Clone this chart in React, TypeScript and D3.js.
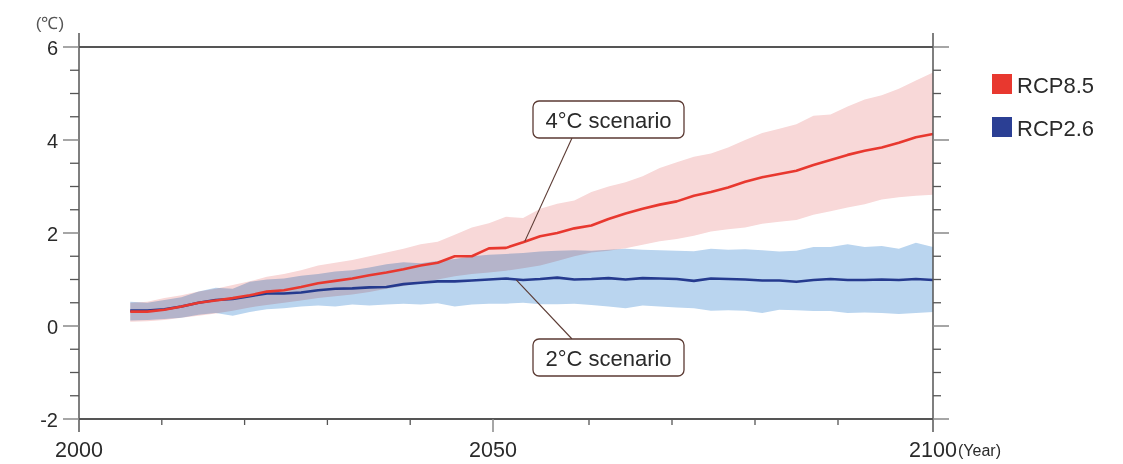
import React from "react";
import * as d3 from "d3";

// ---------- data ----------
const years: number[] = d3.range(2006, 2101, 2);

const rcp85Mean = [0.31, 0.31, 0.35, 0.42, 0.5, 0.55, 0.6, 0.66, 0.74, 0.77, 0.84, 0.92, 0.97, 1.02, 1.09, 1.15, 1.22, 1.3, 1.36, 1.5, 1.5, 1.67, 1.68, 1.8, 1.93, 2.0, 2.1, 2.16, 2.3, 2.42, 2.52, 2.61, 2.68, 2.8, 2.88, 2.98, 3.1, 3.2, 3.27, 3.34, 3.46, 3.57, 3.68, 3.77, 3.84, 3.94, 4.06, 4.13];
const rcp85Upper = [0.5, 0.52, 0.6, 0.66, 0.74, 0.8, 0.88, 0.96, 1.06, 1.12, 1.2, 1.3, 1.36, 1.42, 1.5, 1.58, 1.66, 1.76, 1.81, 1.96, 2.12, 2.21, 2.35, 2.32, 2.52, 2.63, 2.7, 2.88, 3.0, 3.09, 3.22, 3.4, 3.52, 3.64, 3.71, 3.84, 4.0, 4.15, 4.24, 4.34, 4.52, 4.55, 4.72, 4.87, 4.96, 5.1, 5.28, 5.45];
const rcp85Lower = [0.09, 0.1, 0.13, 0.18, 0.22, 0.27, 0.33, 0.4, 0.45, 0.5, 0.55, 0.6, 0.64, 0.68, 0.73, 0.8, 0.86, 0.93, 1.0, 1.07, 1.12, 1.15, 1.19, 1.24, 1.3, 1.4, 1.5, 1.58, 1.62, 1.67, 1.75, 1.82, 1.87, 1.94, 2.03, 2.08, 2.12, 2.2, 2.24, 2.28, 2.39, 2.47, 2.55, 2.62, 2.72, 2.77, 2.8, 2.82];

const rcp26Mean = [0.33, 0.33, 0.36, 0.42, 0.5, 0.56, 0.58, 0.64, 0.7, 0.7, 0.72, 0.77, 0.8, 0.81, 0.83, 0.84, 0.9, 0.93, 0.96, 0.96, 0.98, 1.0, 1.02, 0.99, 1.01, 1.04, 1.0, 1.01, 1.03, 1.0, 1.03, 1.02, 1.01, 0.97, 1.02, 1.01, 1.0, 0.98, 0.98, 0.95, 0.99, 1.01, 0.99, 0.99, 1.0, 0.99, 1.01, 0.99];
const rcp26Upper = [0.52, 0.5, 0.56, 0.62, 0.74, 0.82, 0.8, 0.95, 1.0, 1.02, 1.08, 1.12, 1.17, 1.2, 1.26, 1.33, 1.37, 1.35, 1.4, 1.44, 1.5, 1.53, 1.55, 1.57, 1.6, 1.62, 1.63, 1.62, 1.64, 1.66, 1.64, 1.63, 1.62, 1.61, 1.66, 1.64, 1.65, 1.63, 1.6, 1.62, 1.7, 1.7, 1.76, 1.7, 1.72, 1.66, 1.79, 1.7];
const rcp26Lower = [0.12, 0.13, 0.15, 0.18, 0.24, 0.28, 0.22, 0.3, 0.36, 0.38, 0.42, 0.44, 0.42, 0.46, 0.44, 0.46, 0.48, 0.46, 0.49, 0.42, 0.46, 0.48, 0.48, 0.5, 0.47, 0.47, 0.48, 0.45, 0.42, 0.38, 0.44, 0.42, 0.4, 0.38, 0.33, 0.34, 0.33, 0.28, 0.35, 0.34, 0.32, 0.32, 0.28, 0.29, 0.28, 0.26, 0.28, 0.3];

const yMajorTicks = [-2, 0, 2, 4, 6];
const yMinorTicks = d3.range(-2, 6.01, 0.5).filter((v) => !yMajorTicks.includes(v));
const xLabelTicks = [2000, 2050, 2100];
const xMinorTicks = [2010, 2020, 2030, 2040, 2060, 2070, 2080, 2090];

const legendItems = [
  { label: "RCP8.5", color: "#e8382f" },
  { label: "RCP2.6", color: "#2b3f94" },
];

const annotations = [
  { text: "4°C scenario", year: 2052.2, value: 1.82, boxY: 101, side: "top" },
  { text: "2°C scenario", year: 2051.2, value: 0.99, boxY: 339, side: "bottom" },
];

// ---------- layout ----------
const W = 1123;
const H = 464;
const left = 79;
const right = 933;
const top = 47;
const bottom = 419;
const font = "'Liberation Sans', Arial, Helvetica, sans-serif";
const textColor = "#2a2a2a";
const axisColor = "#555";

export default function App() {
  const x = d3.scaleLinear().domain([2000, 2100]).range([left, right]);
  // axis drawn with the source's uneven tick spacing
  const xAxis = d3.scaleLinear().domain([2000, 2050, 2060, 2090, 2100]).range([left, 493, 589, 838, right]);
  const y = d3.scaleLinear().domain([-2, 6]).range([bottom, top]);

  const band = (up: number[], lo: number[]) =>
    d3
      .area<number>()
      .x((_, i) => x(years[i]))
      .y0((_, i) => y(lo[i]))
      .y1((_, i) => y(up[i]))(years) || "";
  const line = (vals: number[]) =>
    d3
      .line<number>()
      .x((_, i) => x(years[i]))
      .y((_, i) => y(vals[i]))(years) || "";

  return (
    <svg width={W} height={H} style={{ position: "absolute", left: 0, top: 0, background: "#fff" }} fontFamily={font}>
      {/* bands */}
      <path d={band(rcp85Upper, rcp85Lower)} fill="#f8d8d8" />
      <path d={band(rcp26Upper, rcp26Lower)} fill="#bad5ef" style={{ mixBlendMode: "multiply" }} />
      {/* lines */}
      <path d={line(rcp26Mean)} fill="none" stroke="#253a8e" strokeWidth={2.6} strokeLinejoin="round" />
      <path d={line(rcp85Mean)} fill="none" stroke="#e8382f" strokeWidth={2.6} strokeLinejoin="round" />

      {/* frame */}
      <line x1={left} x2={right} y1={top} y2={top} stroke={axisColor} strokeWidth={2} />
      <line x1={left} x2={right} y1={bottom} y2={bottom} stroke={axisColor} strokeWidth={2} />
      <line x1={left} x2={left} y1={33} y2={432} stroke={axisColor} strokeWidth={1.5} />
      <line x1={right} x2={right} y1={33} y2={432} stroke={axisColor} strokeWidth={1.5} />

      {/* y ticks */}
      {yMajorTicks.map((v) => (
        <g key={"ym" + v}>
          <line x1={left - 16} x2={left} y1={y(v)} y2={y(v)} stroke="#888" strokeWidth={1.5} />
          <line x1={right} x2={right + 16} y1={y(v)} y2={y(v)} stroke="#888" strokeWidth={1.5} />
          <text x={58} y={y(v) + 7.5} textAnchor="end" fontSize={20} fill={textColor}>
            {v}
          </text>
        </g>
      ))}
      {yMinorTicks.map((v) => (
        <g key={"yn" + v}>
          <line x1={left - 9} x2={left} y1={y(v)} y2={y(v)} stroke={axisColor} strokeWidth={1.3} />
          <line x1={right} x2={right + 8} y1={y(v)} y2={y(v)} stroke={axisColor} strokeWidth={1.3} />
        </g>
      ))}

      {/* x ticks */}
      {xMinorTicks.map((t) => (
        <line key={"xn" + t} x1={xAxis(t)} x2={xAxis(t)} y1={bottom} y2={bottom + 6} stroke={axisColor} strokeWidth={1.3} />
      ))}
      <line x1={xAxis(2050)} x2={xAxis(2050)} y1={bottom} y2={bottom + 13} stroke="#888" strokeWidth={1.5} />
      {xLabelTicks.map((t) => (
        <text key={"xl" + t} x={xAxis(t)} y={457} textAnchor="middle" fontSize={21.5} fill={textColor}>
          {t}
        </text>
      ))}
      <text x={958} y={456} fontSize={16} fill={textColor}>
        (Year)
      </text>
      <text x={50} y={29} textAnchor="middle" fontSize={17} fill="#555">
        (℃)
      </text>

      {/* legend */}
      {legendItems.map((d, i) => (
        <g key={d.label} transform={`translate(992, ${74 + i * 43})`}>
          <rect width={20} height={20} fill={d.color} />
          <text x={25} y={18.5} fontSize={22} fill={textColor}>
            {d.label}
          </text>
        </g>
      ))}

      {/* annotations */}
      {annotations.map((a) => {
        const bx = 533;
        const bw = 151;
        const bh = 37;
        const ax = x(a.year);
        const ay = y(a.value);
        const lx = 572;
        const ly = a.side === "top" ? a.boxY + bh : a.boxY;
        return (
          <g key={a.text}>
            <line x1={ax} y1={ay} x2={lx} y2={ly} stroke="#5b3a33" strokeWidth={1.1} />
            <rect x={bx} y={a.boxY} width={bw} height={bh} rx={6} fill="#fff" stroke="#5b3a33" strokeWidth={1.3} />
            <text x={bx + bw / 2} y={a.boxY + 27} textAnchor="middle" fontSize={22} fill={textColor}>
              {a.text}
            </text>
          </g>
        );
      })}
    </svg>
  );
}
